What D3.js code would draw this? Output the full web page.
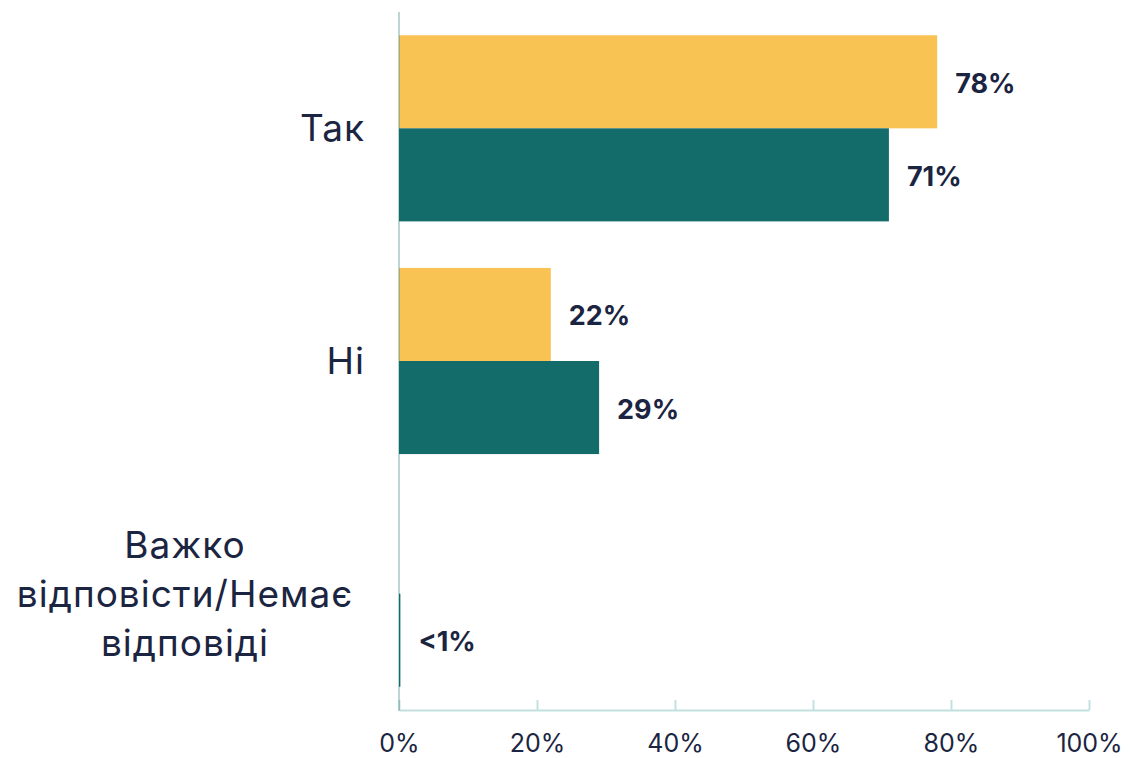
<!DOCTYPE html>
<html>
<head>
<meta charset="utf-8">
<script src="https://cdn.jsdelivr.net/npm/d3@7"></script>
<style>
  body { margin: 0; background: #fff; }
  svg { display: block; }
</style>
</head>
<body>
<script>
// categories (each line of a label is one entry)
var categories = ["Так", "Ні", "Важко відповісти/Немає відповіді"];
var categoryLines = [["Так"], ["Ні"], ["Важко", "відповісти/Немає", "відповіді"]];
var seriesNames = ["Серія 1", "Серія 2"];
var seriesYellow = [78, 22, 0];
var seriesTeal = [71, 29, 0.2];
var labelsYellow = ["78%", "22%", ""];
var labelsTeal = ["71%", "29%", "<1%"];
var xTicks = [0, 20, 40, 60, 80, 100];

var width = 1130, height = 758;
var colors = ["#F8C353", "#136B6A"];
var textColor = "#1B2541";
var font = "Inter, 'Open Sans', sans-serif";

var svg = d3.select("body")
   .append("svg")
   .attr("width", width)
   .attr("height", height);

var x = d3.scaleLinear().domain([0, 100]).range([399, 1089]);
var y = d3.scaleBand()
   .domain(categories)
   .range([12, 710])
   .paddingInner(0.2)
   .paddingOuter(0.1);
var sub = d3.scaleBand()
   .domain([0, 1])
   .range([0, y.bandwidth()]);

// rows: one object per category
var rows = categories.map(function (c, i) {
   return {
      cat: c,
      vals: [seriesYellow[i], seriesTeal[i]],
      labels: [labelsYellow[i], labelsTeal[i]]
   };
});

var groups = svg.selectAll("g.cat")
   .data(rows)
   .enter()
   .append("g")
   .attr("class", "cat")
   .attr("transform", function (d) { return "translate(0," + y(d.cat) + ")"; });

groups.selectAll("rect")
   .data(function (d) { return d.vals.map(function (v, k) { return {v: v, k: k}; }); })
   .enter()
   .append("rect")
   .attr("x", x(0))
   .attr("y", function (d) { return sub(d.k); })
   .attr("width", function (d) { return x(d.v) - x(0); })
   .attr("height", sub.bandwidth())
   .style("fill", function (d) { return colors[d.k]; });

groups.selectAll("text.val")
   .data(function (d) { return d.vals.map(function (v, k) { return {v: v, k: k, t: d.labels[k]}; }); })
   .enter()
   .append("text")
   .attr("class", "val")
   .attr("x", function (d) { return x(d.v) + 18; })
   .attr("y", function (d) { return sub(d.k) + sub.bandwidth() / 2 + 11; })
   .style("font-family", font)
   .style("font-weight", 700)
   .style("font-size", "27px")
   .style("fill", textColor)
   .text(function (d) { return d.t; });

// category labels
categories.forEach(function (c, i) {
   var lines = categoryLines[i];
   var cy = y(c) + y.bandwidth() / 2;
   var lh = 49;
   var multi = lines.length > 1;
   var t = svg.append("text")
      .attr("text-anchor", multi ? "middle" : "end")
      .style("font-family", font)
      .style("font-size", "37px")
      .style("letter-spacing", "1px")
      .style("fill", textColor);
   lines.forEach(function (l, j) {
      t.append("tspan")
         .attr("x", multi ? 185 : 365)
         .attr("y", cy + 13 + (j - (lines.length - 1) / 2) * lh)
         .text(l);
   });
});

// x axis, ticks pointing up
var xAxis = svg.append("g")
   .attr("transform", "translate(0,710)")
   .call(d3.axisBottom(x)
      .tickValues(xTicks)
      .tickFormat(function (d) { return d + "%"; })
      .tickSizeInner(-10)
      .tickSizeOuter(0));
xAxis.select(".domain").attr("stroke", "#C3E0E0").attr("stroke-width", 2);
xAxis.selectAll(".tick line").attr("stroke", "#C3E0E0").attr("stroke-width", 2);
xAxis.selectAll(".tick text")
   .attr("y", 42)
   .attr("dy", null)
   .style("font-family", font)
   .style("font-size", "25px")
   .style("fill", textColor);

// y axis line on top of the bars
svg.append("line")
   .attr("x1", x(0)).attr("x2", x(0))
   .attr("y1", 12).attr("y2", 711)
   .attr("stroke", "rgba(19,105,105,0.28)")
   .attr("stroke-width", 2);
</script>
</body>
</html>
